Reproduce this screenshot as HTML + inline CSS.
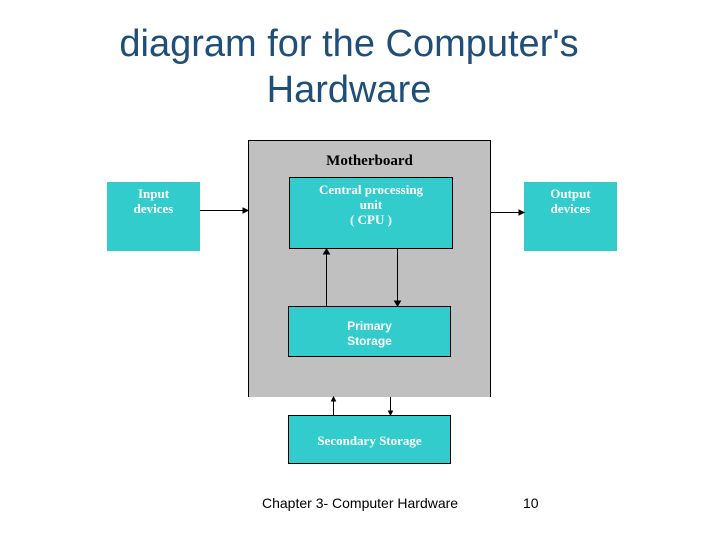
<!DOCTYPE html>
<html><head><style>
body{margin:0;width:720px;height:540px;background:#fff;position:relative;overflow:hidden;font-family:"Liberation Sans",sans-serif}
.t{position:absolute;text-align:center;color:#1f4e79;font-size:38px;line-height:46px}
.b{position:absolute;background:#33cccc;color:#fff;font-family:"Liberation Serif",serif;font-weight:bold;font-size:13px;text-align:center;line-height:15px;box-sizing:border-box}
</style></head><body>
<div class="t" style="top:21px;left:0;width:698px">diagram for the Computer's<br>Hardware</div>
<div style="position:absolute;left:248px;top:140px;width:243px;height:257px;background:#c0c0c0;border-left:1px solid #000;border-right:1px solid #000;border-top:1px solid #000;box-sizing:border-box"></div>
<div style="position:absolute;left:248px;top:153px;width:243px;text-align:center;font-family:'Liberation Serif',serif;font-weight:bold;font-size:15px">Motherboard</div>
<div class="b" style="left:289px;top:177px;width:164px;height:72px;border:1px solid #000;padding-top:4px">Central processing<br>unit<br>( CPU )</div>
<div class="b" style="left:288px;top:306px;width:163px;height:51px;border:1px solid #000;padding-top:12px;font-family:'Liberation Sans',sans-serif;font-size:12px">Primary<br>Storage</div>
<div class="b" style="left:288px;top:415px;width:163px;height:49px;border:1px solid #000;padding-top:17px">Secondary Storage</div>
<div class="b" style="left:107px;top:182px;width:93px;height:69px;padding-top:4px">Input<br>devices</div>
<div class="b" style="left:524px;top:182px;width:93px;height:69px;padding-top:4px">Output<br>devices</div>
<svg width="720" height="540" style="position:absolute;left:0;top:0">
<g stroke="#000" stroke-width="1" fill="#000">
<line x1="200" y1="210.5" x2="246" y2="210.5"/><path d="M248 210.5 l-5 -2.5 v5z"/>
<line x1="491" y1="212.5" x2="522" y2="212.5"/><path d="M524 212.5 l-5 -2.5 v5z"/>
<line x1="326.5" y1="306" x2="326.5" y2="251"/><path d="M326.5 249 l-3 5 h6z"/>
<line x1="397.5" y1="249" x2="397.5" y2="304"/><path d="M397.5 306 l-3 -5 h6z"/>
<line x1="333.5" y1="415" x2="333.5" y2="399"/><path d="M333.5 397 l-2 4 h4z"/>
<line x1="390.5" y1="397" x2="390.5" y2="413"/><path d="M390.5 415 l-2 -4 h4z"/>
</g></svg>
<div style="position:absolute;left:262px;top:495px;font-size:14px;color:#000">Chapter 3- Computer Hardware</div>
<div style="position:absolute;left:523px;top:495px;font-size:14px;color:#000">10</div>
</body></html>
